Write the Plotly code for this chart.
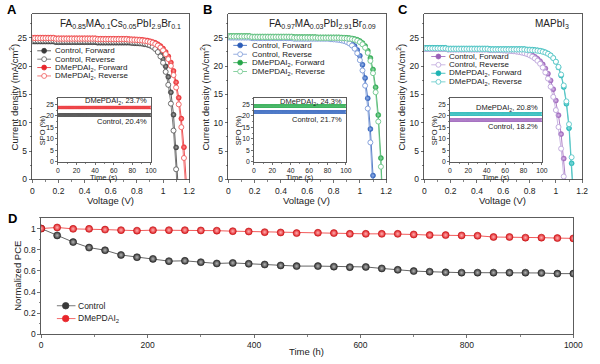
import plotly.graph_objects as go

W, H = 600, 364
def px(x): return x / W
def py(y): return 1 - y / H

FONT = "Liberation Sans, Arial, sans-serif"

# ---------------- data ----------------
voltage = [round(0.02 * i, 2) for i in range(61)]

# Panel A  FA0.85MA0.1Cs0.05PbI2.9Br0.1
a_ctrl_fwd = [24.3, 24.3, 24.3, 24.3, 24.3, 24.3, 24.3, 24.3, 24.3,
              24.2, 24.2, 24.2, 24.2, 24.2, 24.2, 24.2, 24.2, 24.2, 24.2, 24.2, 24.2, 24.2, 24.2, 24.2, 24.2,
              24.1, 24.1, 24.1, 24.1, 24.1, 24.1, 24.1, 24.1, 24.1, 24.1, 24.1, 24.1, 24.1,
              24.04, 24.02, 24.0, 23.96, 23.91, 23.84, 23.75, 23.61, 23.41, 23.12, 22.71, 22.10,
              21.22, 19.94, 18.09, 15.37, 11.42, 5.66, -2.7]
a_ctrl_rev = [24.5, 24.5, 24.5, 24.5, 24.5, 24.5, 24.5, 24.5, 24.5,
              24.4, 24.4, 24.4, 24.4, 24.4, 24.4, 24.4, 24.4, 24.4, 24.4, 24.4, 24.4, 24.4, 24.4, 24.4, 24.4,
              24.3, 24.3, 24.3, 24.3, 24.3, 24.3, 24.3, 24.3, 24.3, 24.3, 24.3, 24.3, 24.3,
              24.23, 24.2, 24.16, 24.12, 24.05, 23.96, 23.83, 23.64, 23.38, 23.0, 22.46, 21.69,
              20.57, 18.97, 16.68, 13.37, 8.62, 1.80, -8.0]
a_dme_fwd = [25.0, 25.0, 25.0, 25.0, 25.0, 25.0, 25.0, 25.0, 25.0,
             24.9, 24.9, 24.9, 24.9, 24.9, 24.9, 24.9, 24.9, 24.9, 24.9, 24.9, 24.9, 24.9, 24.9, 24.9, 24.9,
             24.8, 24.8, 24.8, 24.8, 24.8, 24.8, 24.8, 24.8, 24.8, 24.8, 24.8, 24.8,
             24.75, 24.73, 24.71, 24.69, 24.65, 24.61, 24.55, 24.48, 24.38, 24.25, 24.08, 23.84,
             23.52, 23.08, 22.49, 21.70, 20.61, 19.14, 17.14, 14.41, 10.73, 5.70, -1.13]
a_dme_rev = [24.9, 24.9, 24.9, 24.9, 24.9, 24.9, 24.9, 24.9, 24.9,
             24.8, 24.8, 24.8, 24.8, 24.8, 24.8, 24.8, 24.8, 24.8, 24.8, 24.8, 24.8, 24.8, 24.8, 24.8, 24.8,
             24.7, 24.7, 24.7, 24.7, 24.7, 24.7, 24.7, 24.7, 24.7, 24.7, 24.7, 24.7,
             24.64, 24.62, 24.6, 24.57, 24.53, 24.49, 24.42, 24.34, 24.23, 24.08, 23.88, 23.61,
             23.25, 22.76, 22.10, 21.22, 20.02, 18.40, 16.21, 13.24, 9.22, 3.79, -3.6]

# Panel B  FA0.97MA0.03PbI2.91Br0.09
b_ctrl_fwd = [25.1, 25.1, 25.1, 25.1, 25.1, 25.1, 25.1, 25.1, 25.1,
              25.0, 25.0, 25.0, 25.0, 25.0, 25.0, 25.0, 25.0, 25.0, 25.0, 25.0, 25.0, 25.0, 25.0, 25.0, 25.0,
              24.9, 24.9, 24.9, 24.9, 24.9, 24.9, 24.9, 24.9, 24.9, 24.9, 24.9, 24.9, 24.9, 24.9,
              24.84, 24.81, 24.78, 24.74, 24.68, 24.59, 24.46, 24.26, 23.96, 23.51, 22.83,
              21.8, 20.24, 17.89, 14.32, 8.90, 0.70, -11.7]
b_ctrl_rev = [25.0, 25.0, 25.0, 25.0, 25.0, 25.0, 25.0, 25.0, 25.0,
              24.9, 24.9, 24.9, 24.9, 24.9, 24.9, 24.9, 24.9, 24.9, 24.9, 24.9, 24.9, 24.9, 24.9, 24.9, 24.9,
              24.8, 24.8, 24.8, 24.8, 24.8, 24.8, 24.8, 24.8, 24.8, 24.8, 24.8, 24.8, 24.8, 24.8,
              24.72, 24.69, 24.65, 24.6, 24.52, 24.40, 24.23, 23.98, 23.61, 23.06, 22.25,
              21.03, 19.22, 16.53, 12.51, 6.53, -2.41]
b_dme_fwd = [25.3, 25.3, 25.3, 25.3, 25.3, 25.3, 25.3, 25.3, 25.3,
             25.2, 25.2, 25.2, 25.2, 25.2, 25.2, 25.2, 25.2, 25.2, 25.2, 25.2, 25.2, 25.2, 25.2, 25.2, 25.2,
             25.1, 25.1, 25.1, 25.1, 25.1, 25.1, 25.1, 25.1, 25.1,
             25.05, 25.05, 25.05, 25.05, 25.05, 25.05, 25.05, 25.05, 25.05,
             25.02, 24.99, 24.96, 24.92, 24.86, 24.76, 24.62, 24.40, 24.05, 23.52, 22.69,
             21.40, 19.39, 16.25, 11.37, 3.77, -8.1]
b_dme_rev = [25.2, 25.2, 25.2, 25.2, 25.2, 25.2, 25.2, 25.2, 25.2,
             25.1, 25.1, 25.1, 25.1, 25.1, 25.1, 25.1, 25.1, 25.1, 25.1, 25.1, 25.1, 25.1, 25.1, 25.1, 25.1,
             25.0, 25.0, 25.0, 25.0, 25.0, 25.0, 25.0, 25.0, 25.0,
             24.95, 24.95, 24.95, 24.95, 24.95, 24.95, 24.95, 24.95, 24.95,
             24.91, 24.89, 24.85, 24.80, 24.73, 24.62, 24.46, 24.20, 23.82, 23.23, 22.31,
             20.91, 18.74, 15.38, 10.21, 2.25, -10.1]

# Panel C  MAPbI3
c_ctrl_fwd = [23.0, 23.0, 23.0, 23.0, 23.0, 23.0, 23.0, 23.0, 23.0,
              22.9, 22.9, 22.9, 22.9, 22.9, 22.9, 22.9, 22.9, 22.9, 22.9, 22.9, 22.9, 22.9, 22.9, 22.9, 22.9,
              22.8, 22.8, 22.8, 22.8, 22.8,
              22.77, 22.75, 22.72, 22.69, 22.65, 22.60, 22.54, 22.46, 22.37, 22.24, 22.08, 21.88,
              21.62, 21.28, 20.85, 20.29, 19.57, 18.65, 17.45, 15.91, 13.91, 11.33, 8.0, 3.70, -1.8]
c_ctrl_rev = [23.0, 23.0, 23.0, 23.0, 23.0, 23.0, 23.0, 23.0, 23.0,
              22.9, 22.9, 22.9, 22.9, 22.9, 22.9, 22.9, 22.9, 22.9, 22.9, 22.9, 22.9, 22.9, 22.9, 22.9, 22.9,
              22.8, 22.8, 22.8, 22.8, 22.8,
              22.75, 22.72, 22.69, 22.65, 22.60, 22.54, 22.47, 22.37, 22.25, 22.10, 21.90, 21.65,
              21.33, 20.92, 20.40, 19.73, 18.87, 17.78, 16.36, 14.56, 12.23, 9.25, 5.44, 0.53, -5.7]
c_dme_fwd = [23.2, 23.2, 23.2, 23.2, 23.2, 23.2, 23.2, 23.2, 23.2,
             23.1, 23.1, 23.1, 23.1, 23.1, 23.1, 23.1, 23.1, 23.1, 23.1, 23.1, 23.1, 23.1, 23.1, 23.1, 23.1,
             23.0, 23.0, 23.0, 23.0, 23.0, 23.0, 23.0, 23.0, 23.0, 23.0, 23.0, 23.0, 23.0, 23.0,
             22.93, 22.91, 22.88, 22.84, 22.78, 22.70, 22.59, 22.43, 22.20, 21.88, 21.41,
             20.73, 19.75, 18.34, 16.29, 13.34, 9.05, 2.86, -6.1]
c_dme_rev = [23.1, 23.1, 23.1, 23.1, 23.1, 23.1, 23.1, 23.1, 23.1,
             23.0, 23.0, 23.0, 23.0, 23.0, 23.0, 23.0, 23.0, 23.0, 23.0, 23.0, 23.0, 23.0, 23.0, 23.0, 23.0,
             22.9, 22.9, 22.9, 22.9, 22.9, 22.9, 22.9, 22.9, 22.9, 22.9, 22.9, 22.9, 22.9, 22.9,
             22.83, 22.81, 22.78, 22.74, 22.69, 22.62, 22.51, 22.36, 22.15, 21.84, 21.40,
             20.76, 19.84, 18.50, 16.58, 13.77, 9.75, 3.92, -4.5]

# SPO insets (stabilised power output, %)
spo_time = list(range(0, 101, 1))
spo_a = {"ctrl": 20.4, "dme": 23.7}
spo_b = {"ctrl": 21.7, "dme": 24.3}
spo_c = {"ctrl": 18.2, "dme": 20.8}

# Panel D stability
time_h = [0, 30, 60, 90, 120, 150, 180, 210, 240, 270, 300, 330, 360, 390, 420, 450, 480,
          520, 550, 580, 610, 640, 670, 700, 730, 760, 790, 820, 850, 880, 910, 940, 970, 1000]
pce_ctrl = [1.0, 0.935, 0.872, 0.82, 0.795, 0.75, 0.729, 0.713, 0.692, 0.695, 0.682, 0.67, 0.675,
            0.667, 0.66, 0.651, 0.645, 0.645, 0.64, 0.635, 0.637, 0.623, 0.61, 0.598, 0.592, 0.586,
            0.583, 0.583, 0.583, 0.583, 0.583, 0.58, 0.574, 0.574]
pce_dme = [1.0, 1.01, 0.997, 0.997, 0.99, 0.985, 0.98, 0.985, 0.985, 0.985, 0.982, 0.98, 0.975,
           0.972, 0.966, 0.963, 0.957, 0.96, 0.957, 0.95, 0.95, 0.95, 0.95, 0.944, 0.938, 0.938,
           0.935, 0.932, 0.92, 0.92, 0.914, 0.914, 0.91, 0.907]

legend_labels = ["Control, Forward", "Control, Reverse",
                 "DMePDAI<sub>2</sub>, Forward", "DMePDAI<sub>2</sub>, Reverse"]

# ---------------- styles ----------------
styles = {
    "A": [("#3a3a3a", "#3a3a3a", "#a8a8a8", True), ("#606060", "#606060", None, False),
          ("#e8262b", "#e8262b", "#ffa0a0", True), ("#f05a5a", "#f05a5a", None, False)],
    "B": [("#2b5cb8", "#2b5cb8", "#9ab8ee", True), ("#7c9ad8", "#7c9ad8", None, False),
          ("#24a548", "#24a548", "#9fe0b0", True), ("#6cc58a", "#6cc58a", None, False)],
    "C": [("#9a60b8", "#9a60b8", "#dcc0ea", True), ("#bca4da", "#bca4da", None, False),
          ("#1db3b3", "#1db3b3", "#a8eeee", True), ("#5ac7c7", "#5ac7c7", None, False)],
}

fig = go.Figure()

def add_jv(xa, ya, curves, st):
    for J, (lc, mc, grad, filled) in zip(curves, st):
        if filled:
            marker = dict(size=5, color=mc, line=dict(width=0.5, color=mc),
                          gradient=dict(type="radial", color=grad))
        else:
            marker = dict(size=5, color="white", line=dict(width=0.9, color=mc))
        fig.add_trace(go.Scatter(x=voltage[:len(J)], y=J, mode="lines+markers",
                                 line=dict(color=lc, width=0.8), marker=marker,
                                 xaxis=xa, yaxis=ya, showlegend=False, hoverinfo="skip"))

def add_spo(xa, ya, spo, ctrl_col, ctrl_grad, dme_col, dme_grad):
    for key, col, grad in (("ctrl", ctrl_col, ctrl_grad), ("dme", dme_col, dme_grad)):
        fig.add_trace(go.Scatter(x=spo_time, y=[spo[key]] * len(spo_time), mode="lines+markers",
                                 line=dict(color=col, width=0.8),
                                 marker=dict(size=3.6, color=col, gradient=dict(type="radial", color=grad)),
                                 xaxis=xa, yaxis=ya, showlegend=False, hoverinfo="skip"))

add_jv("x", "y", [a_ctrl_fwd, a_ctrl_rev, a_dme_fwd, a_dme_rev], styles["A"])
add_spo("x2", "y2", spo_a, "#3a3a3a", "#b0b0b0", "#e8262b", "#ffa0a0")
add_jv("x3", "y3", [b_ctrl_fwd, b_ctrl_rev, b_dme_fwd, b_dme_rev], styles["B"])
add_spo("x4", "y4", spo_b, "#2b5cb8", "#a0c0f0", "#24a548", "#a0e4b4")
add_jv("x5", "y5", [c_ctrl_fwd, c_ctrl_rev, c_dme_fwd, c_dme_rev], styles["C"])
add_spo("x6", "y6", spo_c, "#9a60b8", "#dcc0ea", "#1db3b3", "#a8eeee")

fig.add_trace(go.Scatter(x=time_h, y=pce_ctrl, mode="lines+markers",
                         line=dict(color="#555555", width=0.9),
                         marker=dict(size=7, color="#333333", line=dict(width=0.6, color="#222222"),
                                     gradient=dict(type="radial", color="#b5b5b5")),
                         xaxis="x7", yaxis="y7", showlegend=False, hoverinfo="skip"))
fig.add_trace(go.Scatter(x=time_h, y=pce_dme, mode="lines+markers",
                         line=dict(color="#f04848", width=0.9),
                         marker=dict(size=7, color="#e01e24", line=dict(width=0.6, color="#c01010"),
                                     gradient=dict(type="radial", color="#ffb0b0")),
                         xaxis="x7", yaxis="y7", showlegend=False, hoverinfo="skip"))

# ---------------- axes ----------------
def ax_common(size=8.5, ticklen=3):
    return dict(showline=True, linecolor="#333333", linewidth=0.8, mirror=True,
                ticks="outside", ticklen=ticklen, tickwidth=0.7, tickcolor="#333333",
                showgrid=False, zeroline=False,
                tickfont=dict(size=size, family=FONT, color="#222222"))

main_x = [(31, 191), (231, 392), (431, 592)]
inset_x = [(57, 152), (257, 351), (457, 551)]
layout = dict(width=W, height=H, margin=dict(l=0, r=0, t=0, b=0),
              paper_bgcolor="white", plot_bgcolor="rgba(0,0,0,0)",
              font=dict(family=FONT, color="#222222"))

for i in range(3):
    mi = 2 * i + 1
    ii = 2 * i + 2
    xn = "xaxis" if mi == 1 else f"xaxis{mi}"
    yn = "yaxis" if mi == 1 else f"yaxis{mi}"
    layout[xn] = dict(ax_common(), domain=[px(main_x[i][0]), px(main_x[i][1])],
                      range=[0, 1.2], dtick=0.2, anchor=f"y{'' if mi == 1 else mi}",
                      minor=dict(dtick=0.1, ticklen=1.8, tickwidth=0.6, ticks="outside"))
    layout[yn] = dict(ax_common(), domain=[py(182), py(14)], range=[0, 29.2], dtick=5,
                      anchor=f"x{'' if mi == 1 else mi}",
                      minor=dict(dtick=2.5, ticklen=1.8, tickwidth=0.6, ticks="outside"))
    layout[f"xaxis{ii}"] = dict(ax_common(6.8, 2), domain=[px(inset_x[i][0]), px(inset_x[i][1])],
                                range=[0, 100], dtick=20, anchor=f"y{ii}",
                                minor=dict(dtick=10, ticklen=1.2, tickwidth=0.6, ticks="outside"))
    layout[f"yaxis{ii}"] = dict(ax_common(6.8, 2), domain=[py(164), py(99)], range=[0, 28],
                                dtick=5, anchor=f"x{ii}",
                                minor=dict(dtick=2.5, ticklen=1.2, tickwidth=0.6, ticks="outside"))

layout["xaxis7"] = dict(ax_common(), domain=[px(40), px(583)], range=[0, 1000], dtick=200,
                        anchor="y7", minor=dict(dtick=100, ticklen=1.8, tickwidth=0.6, ticks="outside"))
layout["yaxis7"] = dict(ax_common(), domain=[py(339), py(221)], range=[0, 1.1], dtick=0.2,
                        anchor="x7", minor=dict(dtick=0.1, ticklen=1.8, tickwidth=0.6, ticks="outside"))
fig.update_layout(**layout)

# ---------------- text ----------------
ann = []
def text(x, y, s, size=9, xanchor="center", angle=0, bold=False, color="#222222"):
    ann.append(dict(x=px(x), y=py(y), xref="paper", yref="paper", text=f"<b>{s}</b>" if bold else s,
                    showarrow=False, xanchor=xanchor, yanchor="middle", textangle=angle,
                    font=dict(size=size, family=FONT, color=color)))

for lab, x, y in (("A", 10.5, 9.5), ("B", 209.5, 9.5), ("C", 409.5, 9.5), ("D", 11, 222)):
    text(x, y, lab, size=13, bold=True, color="black")

for cx, yx in ((111, 12), (311, 207), (511, 407)):
    text(cx, 203, "Voltage (V)", size=9.5)
    text(yx, 98, "Current density (mA/cm<sup>2</sup>)", size=9.5, angle=-90)

text(185, 24, "FA<sub>0.85</sub>MA<sub>0.1</sub>Cs<sub>0.05</sub>PbI<sub>2.9</sub>Br<sub>0.1</sub>",
     size=10, xanchor="right")
text(384, 24, "FA<sub>0.97</sub>MA<sub>0.03</sub>PbI<sub>2.91</sub>Br<sub>0.09</sub>",
     size=10, xanchor="right")
text(581, 24, "MAPbI<sub>3</sub>", size=10, xanchor="right")

inset_txt = [(150, 102.7, "DMePDAI<sub>2</sub>, 23.7%", 122.7, "Control, 20.4%"),
             (349, 103.3, "DMePDAI<sub>2</sub>, 24.3%", 120.7, "Control, 21.7%"),
             (549, 109.3, "DMePDAI<sub>2</sub>, 20.8%", 128.3, "Control, 18.2%")]
for (xr, y1, t1, y2, t2), (x0, x1) in zip(inset_txt, inset_x):
    text(xr, y1, t1, size=7.5, xanchor="right")
    text(xr, y2, t2, size=7.5, xanchor="right")
    text((x0 + x1) / 2, 180, "Time (s)", size=7.5)
    text(x0 - 16, 132, "SPO (%)", size=7.5, angle=-90)

text(15, 280, "Normalized PCE", size=9.5, angle=-90)
text(311, 356, "Time (h)", size=9.5)

# ---------------- legends (drawn as layout decorations) ----------------
shapes = []
def legend_entry(x0, x1, xm, xt, y, label, lc, mc, filled, r=2.5, size=8):
    shapes.append(dict(type="line", xref="paper", yref="paper", x0=px(x0), x1=px(x1),
                       y0=py(y), y1=py(y), line=dict(color=lc, width=0.8)))
    shapes.append(dict(type="circle", xref="paper", yref="paper",
                       x0=px(xm - r), x1=px(xm + r), y0=py(y + r), y1=py(y - r),
                       fillcolor=mc if filled else "white", line=dict(color=mc, width=0.8)))
    text(xt, y, label, size=size, xanchor="left")

leg_pos = {"A": (36, 50, 43, 52.5, [51.5, 60, 68.5, 77]),
           "B": (236, 250, 243, 253, [46, 55, 63.5, 72.5]),
           "C": (438, 452.5, 445.3, 454, [57.3, 65.7, 74.3, 83])}
for key, (x0, x1, xm, xt, ys) in leg_pos.items():
    for (lc, mc, grad, filled), lab, y in zip(styles[key], legend_labels, ys):
        legend_entry(x0, x1, xm, xt, y, lab, lc, mc, filled)

legend_entry(56, 75, 65, 76, 310, "Control", "#555555", "#3a3a3a", True, r=3.3, size=8.5)
legend_entry(56, 75, 65, 76, 323, "DMePDAI<sub>2</sub>", "#f04848", "#e8262b", True, r=3.3, size=8.5)

fig.update_layout(annotations=ann, shapes=shapes)
fig.write_html("out.html", config={"displayModeBar": False, "staticPlot": True},
               post_script="document.body.style.margin='0';document.body.style.padding='0';")
